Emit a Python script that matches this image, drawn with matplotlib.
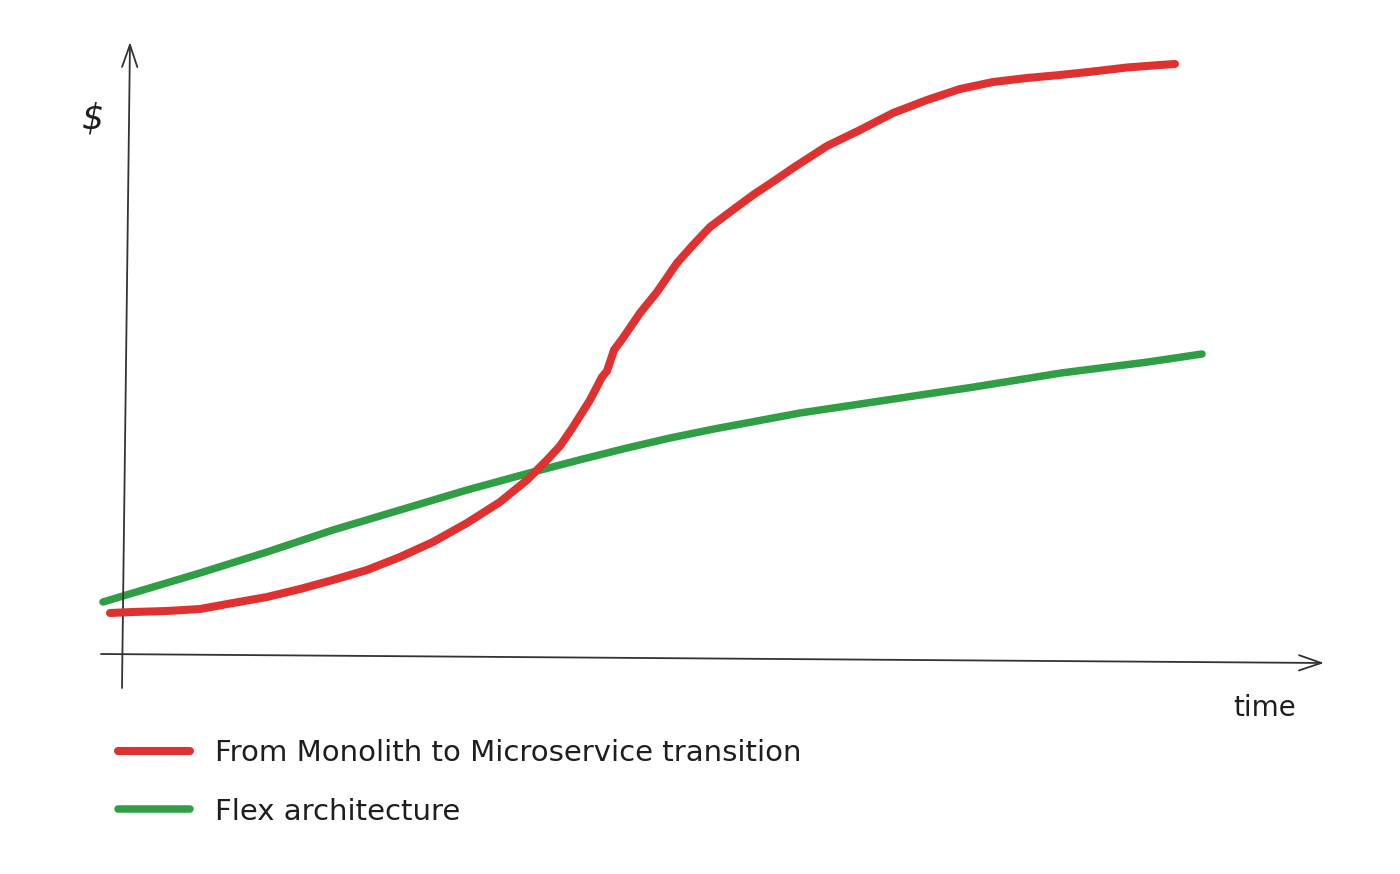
import matplotlib
matplotlib.use("Agg")
import matplotlib.pyplot as plt

# ---- data (time units, $ units) ----
red_label = "From Monolith to Microservice transition"
red_t = [-0.12, 0.11, 0.45, 0.78, 1.11, 1.45, 1.78, 2.11, 2.45, 2.78, 3.11,
         3.45, 3.78, 4.05, 4.25, 4.38, 4.51, 4.68, 4.80, 4.85, 4.88, 4.92,
         5.01, 5.18, 5.35, 5.55, 5.71, 5.88, 6.08, 6.31, 6.55, 6.71, 7.05,
         7.38, 7.71, 8.05, 8.38, 8.71, 9.05, 9.38, 9.71, 10.05, 10.38, 10.53]
red_y = [0.84, 0.86, 0.88, 0.92, 1.04, 1.16, 1.32, 1.50, 1.70, 1.96, 2.26,
         2.64, 3.06, 3.50, 3.90, 4.18, 4.56, 5.10, 5.56, 5.68, 5.86, 6.10,
         6.34, 6.84, 7.26, 7.84, 8.20, 8.56, 8.86, 9.20, 9.52, 9.74, 10.18,
         10.50, 10.84, 11.10, 11.32, 11.46, 11.54, 11.60, 11.67, 11.75, 11.80,
         11.82]

green_label = "Flex architecture"
green_t = [-0.19, 0.11, 0.78, 1.45, 2.11, 2.78, 3.45, 4.11, 4.38, 4.61, 5.05,
           5.48, 5.92, 6.78, 7.65, 8.52, 9.39, 10.26, 10.80]
green_y = [1.06, 1.24, 1.64, 2.06, 2.50, 2.90, 3.30, 3.66, 3.80, 3.92, 4.14,
           4.34, 4.52, 4.84, 5.10, 5.36, 5.64, 5.86, 6.02]

x_label = "time"
y_label = "$"

RED = "#e03131"
GREEN = "#2f9e44"
INK = "#1e1e1e"

fig = plt.figure(figsize=(14, 8.74), dpi=100)
ax = fig.add_axes([0, 0, 1, 1])
ax.set_xlim(-1.22, 12.78)
ax.set_ylim(-4.38, 13.10)
ax.axis("off")

# hand-drawn style axes with arrow heads
ax.annotate("", xy=(0.08, 12.26), xytext=(0.0, -0.66),
            arrowprops=dict(arrowstyle="->,head_length=1.6,head_width=0.55",
                            color="#333333", lw=1.3, shrinkA=0, shrinkB=0))
ax.annotate("", xy=(12.02, -0.16), xytext=(-0.21, 0.02),
            arrowprops=dict(arrowstyle="->,head_length=1.6,head_width=0.55",
                            color="#333333", lw=1.3, shrinkA=0, shrinkB=0))

ax.plot(red_t, red_y, color=RED, lw=5.8, solid_capstyle="round",
        solid_joinstyle="round", label=red_label, zorder=3)
ax.plot(green_t, green_y, color=GREEN, lw=5.4, solid_capstyle="round",
        solid_joinstyle="round", label=green_label, zorder=2)

ax.text(-0.29, 10.74, y_label, fontsize=25, color=INK, ha="center",
        va="center", fontstyle="italic")
ax.text(11.43, -1.06, x_label, fontsize=20, color=INK, ha="center",
        va="center")

leg = ax.legend(loc="upper left", bbox_to_anchor=(0.0843, 0.1545),
                bbox_transform=fig.transFigure, frameon=False,
                fontsize=21, handlelength=2.47, handletextpad=0.86,
                labelspacing=1.05, borderpad=0, borderaxespad=0)
for t in leg.get_texts():
    t.set_color(INK)

fig.savefig("out.png", dpi=100, facecolor="white")
